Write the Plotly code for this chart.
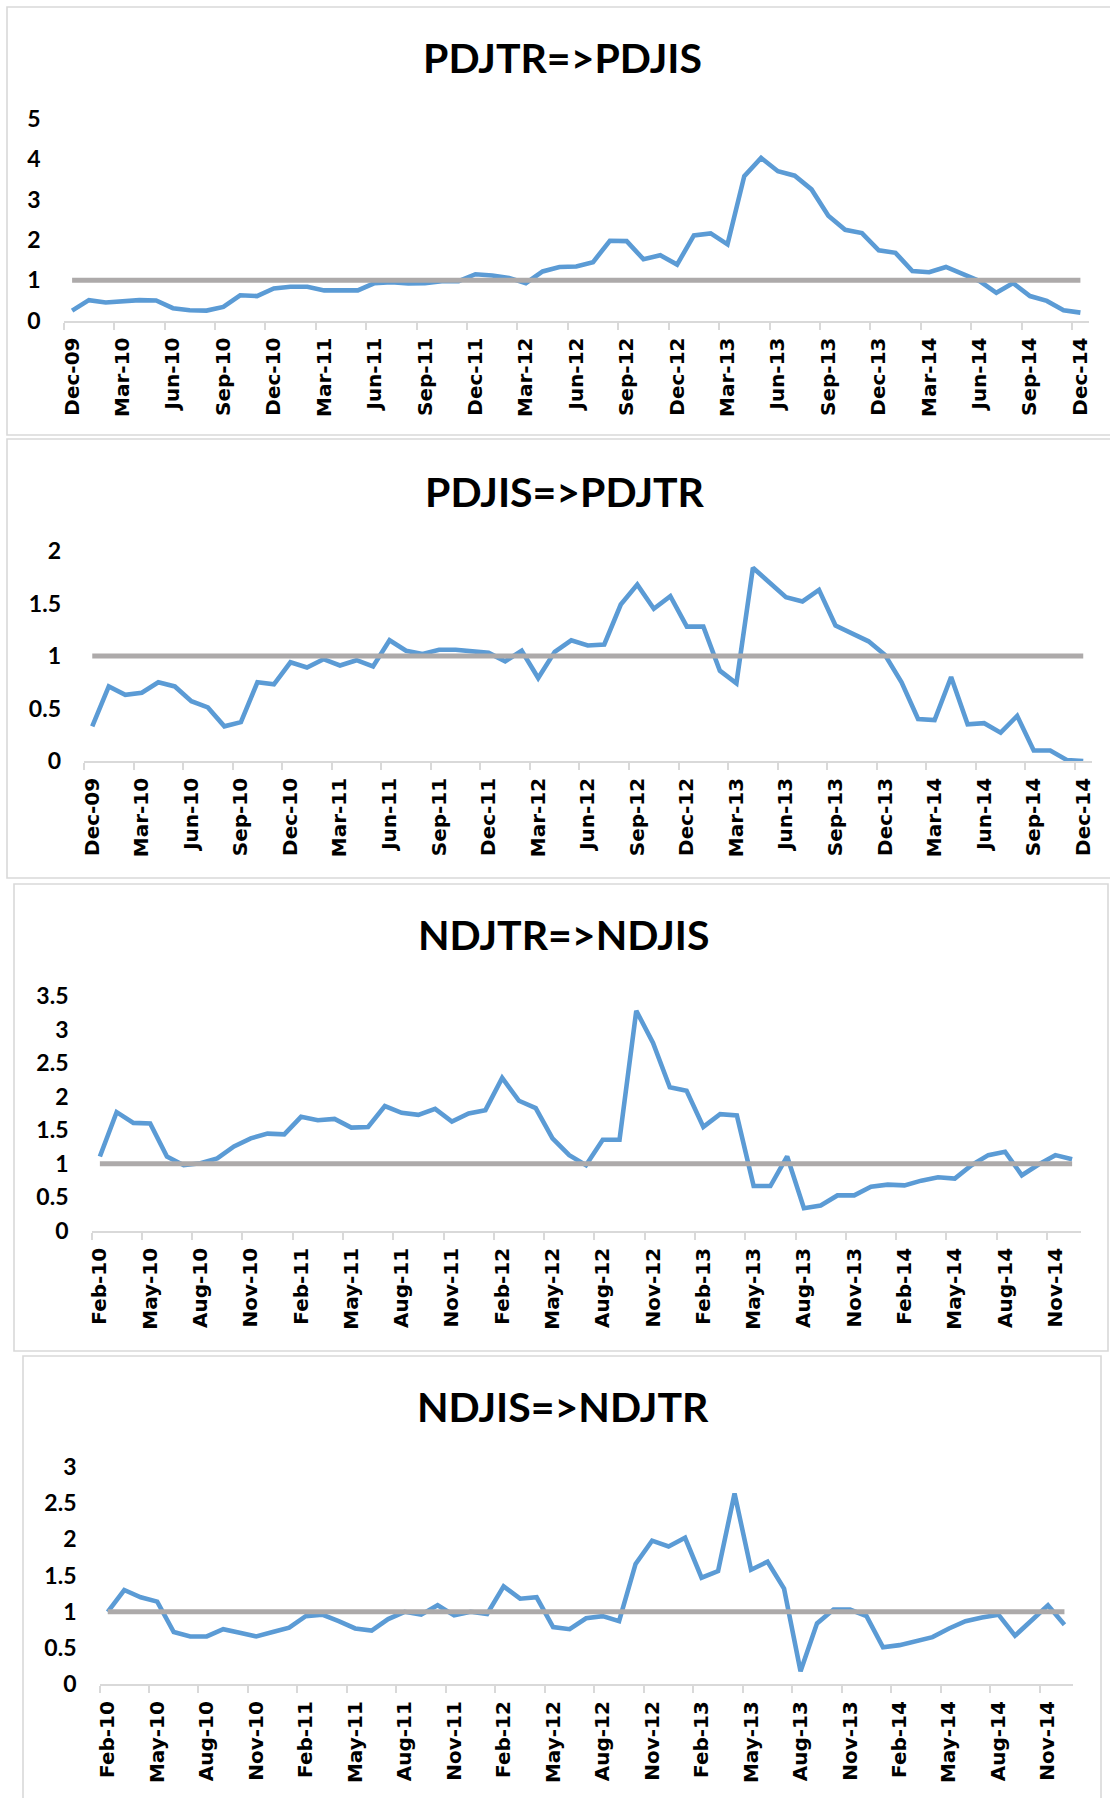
import plotly.graph_objects as go
import pandas as pd

# ---------------- data ----------------
months_pd = pd.date_range("2009-12-01", periods=61, freq="MS").strftime("%b-%y").tolist()
months_nd = pd.date_range("2010-02-01", periods=59, freq="MS").strftime("%b-%y").tolist()

ticklabels_pd = months_pd[::3]   # Dec-09 ... Dec-14
ticklabels_nd = months_nd[::3]   # Feb-10 ... Nov-14

pdjtr_to_pdjis = [0.25, 0.51, 0.45, 0.47, 0.51, 0.50, 0.31, 0.26, 0.25, 0.34,
                  0.63, 0.61, 0.80, 0.84, 0.84, 0.75, 0.76, 0.75, 0.93, 0.95,
                  0.92, 0.93, 0.98, 0.98, 1.15, 1.12, 1.06, 0.93, 1.22, 1.33,
                  1.34, 1.45, 1.98, 1.97, 1.52, 1.62, 1.39, 2.11, 2.16, 1.89,
                  3.58, 4.03, 3.70, 3.59, 3.25, 2.60, 2.25, 2.17, 1.74, 1.68,
                  1.23, 1.20, 1.33, 1.14, 0.98, 0.69, 0.93, 0.61, 0.49, 0.26, 0.20]

pdjis_to_pdjtr = [0.33, 0.71, 0.63, 0.65, 0.75, 0.71, 0.57, 0.51, 0.33, 0.37,
                  0.75, 0.73, 0.94, 0.89, 0.97, 0.91, 0.96, 0.90, 1.15, 1.05,
                  1.02, 1.06, 1.06, 1.05, 1.03, 0.95, 1.05, 0.79, 1.04, 1.15,
                  1.10, 1.11, 1.49, 1.68, 1.45, 1.57, 1.28, 1.28, 0.86, 0.74,
                  1.84, 1.70, 1.56, 1.52, 1.63, 1.29, 1.21, 1.14, 1.01, 0.75,
                  0.40, 0.39, 0.80, 0.35, 0.36, 0.27, 0.43, 0.10, 0.10, 0.01, 0.00]

ndjtr_to_ndjis = [1.11, 1.77, 1.61, 1.60, 1.11, 0.98, 1.01, 1.08, 1.26, 1.38,
                  1.45, 1.44, 1.70, 1.65, 1.67, 1.54, 1.55, 1.86, 1.76, 1.73,
                  1.82, 1.63, 1.75, 1.80, 2.28, 1.94, 1.83, 1.38, 1.13, 0.98,
                  1.36, 1.36, 3.28, 2.80, 2.14, 2.09, 1.55, 1.74, 1.72, 0.67,
                  0.67, 1.11, 0.34, 0.38, 0.53, 0.53, 0.66, 0.69, 0.68, 0.75,
                  0.80, 0.78, 0.98, 1.13, 1.18, 0.83, 0.99, 1.13, 1.07]

ndjis_to_ndjtr = [1.00, 1.30, 1.20, 1.14, 0.72, 0.66, 0.66, 0.76, 0.71, 0.66,
                  0.72, 0.78, 0.94, 0.96, 0.87, 0.77, 0.74, 0.90, 1.00, 0.96,
                  1.09, 0.95, 1.00, 0.97, 1.35, 1.18, 1.20, 0.79, 0.76, 0.91,
                  0.94, 0.87, 1.66, 1.98, 1.90, 2.02, 1.47, 1.56, 2.63, 1.58,
                  1.69, 1.32, 0.18, 0.84, 1.03, 1.03, 0.94, 0.51, 0.54, 0.60,
                  0.65, 0.77, 0.87, 0.92, 0.96, 0.67, 0.88, 1.09, 0.82]

threshold = 1.0

titles = ["PDJTR=>PDJIS", "PDJIS=>PDJTR", "NDJTR=>NDJIS", "NDJIS=>NDJTR"]
series = [pdjtr_to_pdjis, pdjis_to_pdjtr, ndjtr_to_ndjis, ndjis_to_ndjtr]
categories = [months_pd, months_pd, months_nd, months_nd]
ticklabels = [ticklabels_pd, ticklabels_pd, ticklabels_nd, ticklabels_nd]
ymax = [5, 2, 3.5, 3]
ydtick = [1, 0.5, 0.5, 0.5]

# ---------------- layout (pixel geometry) ----------------
W, H = 1110, 1798
xdom_px = [(63.7, 1088.8), (84.0, 1091.5), (91.5, 1080.5), (99.5, 1072.7)]
ydom_px = [(320.7, 118.7), (761.0, 551.0), (1231.0, 996.0), (1684.3, 1466.7)]
box_px = [(7, 7, 1125, 435), (7, 439, 1125, 878), (14, 884, 1108, 1351), (23, 1356, 1101, 1820)]
title_px = [(562, 58), (565, 491), (563, 934), (563, 1406)]

BLUE = "#5B9BD5"
GREY = "#ADAAAA"
AXIS = "#D9D9D9"

fx = lambda px: px / W
fy = lambda py: 1 - py / H

fig = go.Figure()
shapes, annotations = [], []
for k in range(4):
    n = len(categories[k])
    idx = list(range(n))
    xa = "x" if k == 0 else f"x{k+1}"
    ya = "y" if k == 0 else f"y{k+1}"
    fig.add_trace(go.Scatter(x=idx, y=series[k], mode="lines", xaxis=xa, yaxis=ya,
                             line=dict(color=BLUE, width=4.6), text=categories[k],
                             hovertemplate="%{text}: %{y}<extra></extra>", showlegend=False))
    fig.add_trace(go.Scatter(x=idx, y=[threshold] * n, mode="lines", xaxis=xa, yaxis=ya,
                             line=dict(color=GREY, width=5), hoverinfo="skip", showlegend=False))

    lab_idx = idx[::3]
    xkey = "xaxis" if k == 0 else f"xaxis{k+1}"
    ykey = "yaxis" if k == 0 else f"yaxis{k+1}"
    fig.layout[xkey] = dict(
        domain=[fx(xdom_px[k][0]), fx(xdom_px[k][1])],
        anchor=ya, range=[-0.5, n - 0.5], tickmode="array",
        tickvals=lab_idx, ticktext=ticklabels[k], ticks="", tickangle=-90,
        ticklabelstandoff=7, automargin=False,
        tickfont=dict(family="DejaVu Sans", size=20, color="#000000", weight="bold"),
        showline=True, linecolor=AXIS, linewidth=1.6, showgrid=False, zeroline=False,
        minor=dict(tickmode="array", tickvals=[i - 0.5 for i in lab_idx], ticks="outside",
                   ticklen=7, tickwidth=1.6, tickcolor=AXIS, showgrid=False),
        fixedrange=True,
    )
    fig.layout[ykey] = dict(
        domain=[fy(ydom_px[k][0]), fy(ydom_px[k][1])],
        anchor=xa, range=[0, ymax[k]], dtick=ydtick[k], tick0=0, ticks="",
        ticklabelstandoff=22, automargin=False,
        tickfont=dict(family="Lato", size=23, color="#000000", weight="bold"),
        showline=False, showgrid=False, zeroline=False, fixedrange=True,
    )
    x0, y0, x1, y1 = box_px[k]
    shapes.append(dict(type="rect", xref="paper", yref="paper", x0=fx(x0), x1=fx(x1),
                       y0=fy(y0), y1=fy(y1), line=dict(color=AXIS, width=1.6), layer="below"))
    annotations.append(dict(text=titles[k], xref="paper", yref="paper",
                            x=fx(title_px[k][0]), y=fy(title_px[k][1]),
                            xanchor="center", yanchor="middle", showarrow=False,
                            font=dict(family="Lato", size=41, color="#000000", weight="bold")))

fig.update_layout(width=W, height=H, autosize=False, margin=dict(l=0, r=0, t=0, b=0, pad=0),
                  paper_bgcolor="white", plot_bgcolor="white",
                  shapes=shapes, annotations=annotations)

fig.write_html("out.html", config={"displayModeBar": False},
               post_script="document.body.style.margin='0px';")
